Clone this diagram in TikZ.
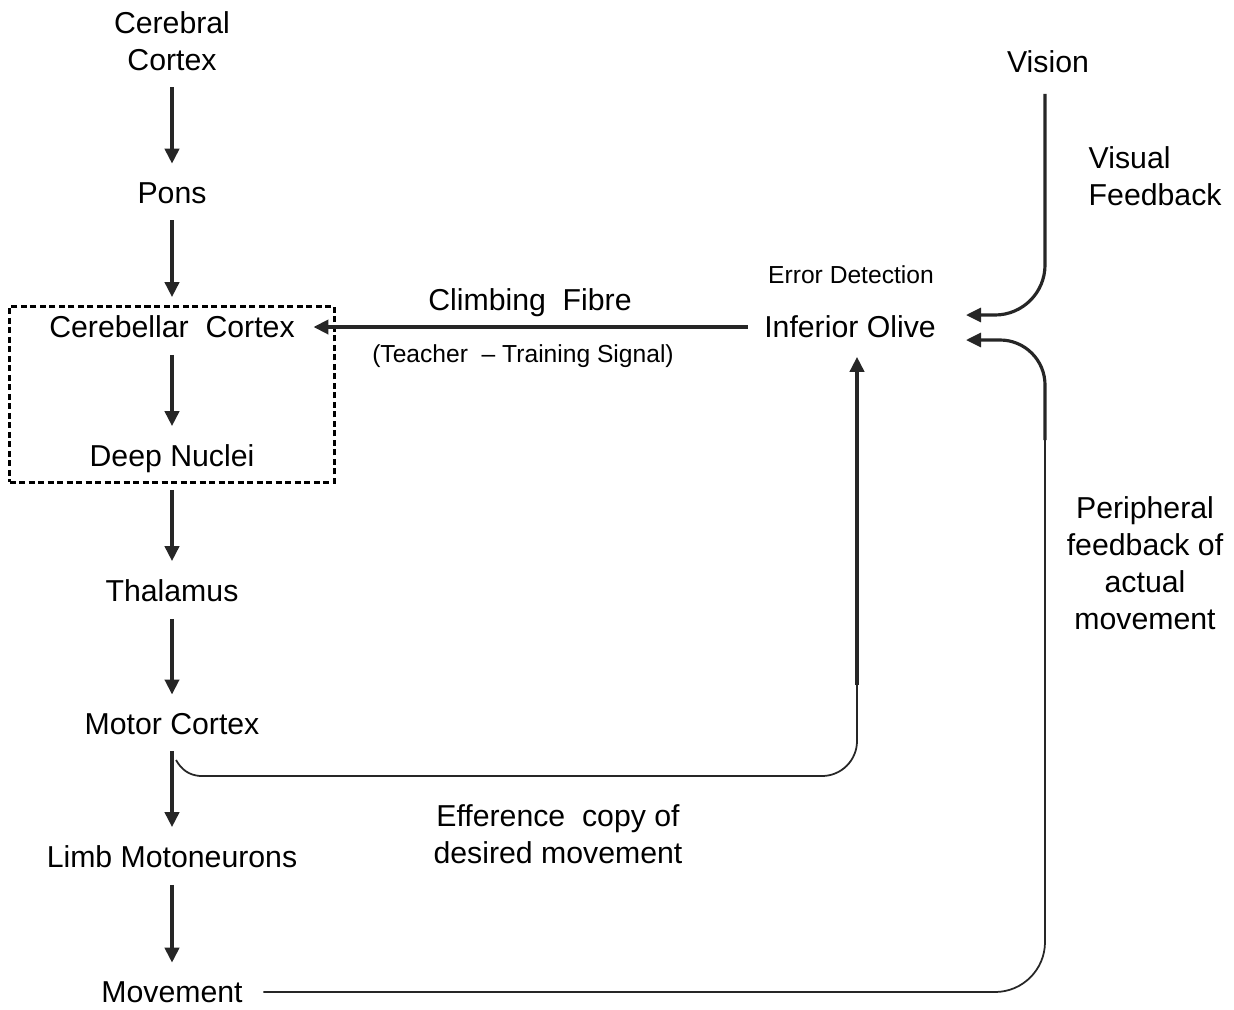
\documentclass[tikz,border=0pt]{standalone}
\usepackage{fontspec}
\setmainfont{Liberation Sans}
\usetikzlibrary{arrows.meta,fit}

\tikzset{
  lbl/.style={inner sep=0pt,align=center,font=\fontsize{8.6}{10.5}\selectfont},
  small/.style={inner sep=0pt,align=center,font=\fontsize{7}{8.5}\selectfont},
  arr/.style={line width=1.2pt,draw=black!85,-{Triangle[length=0.15cm,width=0.14cm]}},
  gap/.style={shorten <=0.16cm,shorten >=0.18cm},
  fb/.style={line width=0.5pt,draw=black!85},
  dashbox/.style={draw,line width=0.8pt,dash pattern=on 0.06cm off 0.035cm,inner sep=0pt}
}

\begin{document}
\begin{tikzpicture}[x=0.01cm,y=-0.01cm]
\useasboundingbox (0,0) rectangle (1234,1009);

\node[lbl] (cereb) at (172,41) {Cerebral\\Cortex};
\node[lbl] (pons) at (172,193) {Pons};
\node[lbl] (cbc) at (172,327) {Cerebellar\ \ Cortex};
\node[lbl] (deep) at (172,459) {Deep Nuclei};
\node[lbl] (thal) at (172,591) {Thalamus};
\node[lbl] (motor) at (172,724) {Motor Cortex};
\node[lbl] (limb) at (172,857) {Limb Motoneurons};
\node[lbl] (move) at (172,992) {Movement};

\node[dashbox,fit=(cbc)(deep),inner xsep=0.39cm,inner ysep=0.085cm] (cbox) {};

\node[small] (err) at (851,275) {Error Detection};
\node[lbl] (olive) at (850,327) {Inferior Olive};
\node[lbl] (vision) at (1048,62) {Vision};
\node[lbl,align=left,anchor=west] (visfb) at (1088,176) {Visual\\Feedback};
\node[lbl] (climb) at (530,303) {Climbing\ \ Fibre};
\node[small] (teach) at (523,356) {(Teacher\ \ -- Training Signal)};
\node[lbl] (effer) at (558,834) {Efference\ \ copy of\\desired movement};
\node[lbl] (periph) at (1145,563) {Peripheral\\feedback of\\actual\\movement};

\coordinate (vin) at (966,315);
\coordinate (pin) at (966,340);
\coordinate (pk) at (1045,440);
\coordinate (ejoin) at (176,760);
\coordinate (ek) at (857,685);

\foreach \from/\to in {cereb/pons,pons/cbc,cbc/deep,deep/thal,thal/motor,motor/limb,limb/move}
\draw[arr,gap] (\from) -- (\to);
\draw[arr,gap] (olive.west) -- (cbc.east);

\draw[arr,line width=0.9pt,rounded corners=0.5cm,shorten <=0.2cm] ([xshift=-0.03cm]vision.south) |- (vin);
\draw[fb,rounded corners=0.5cm,shorten <=0.2cm] (move.east) -| (pk);
\draw[arr,line width=0.9pt,rounded corners=0.45cm] (pk) |- (pin);
\draw[fb] (ejoin) to[out=-60,in=175] (200,776) [rounded corners=0.35cm] -| (ek);
\draw[arr,shorten >=0.18cm] (ek) -- (ek |- olive.south);
\end{tikzpicture}
\end{document}
